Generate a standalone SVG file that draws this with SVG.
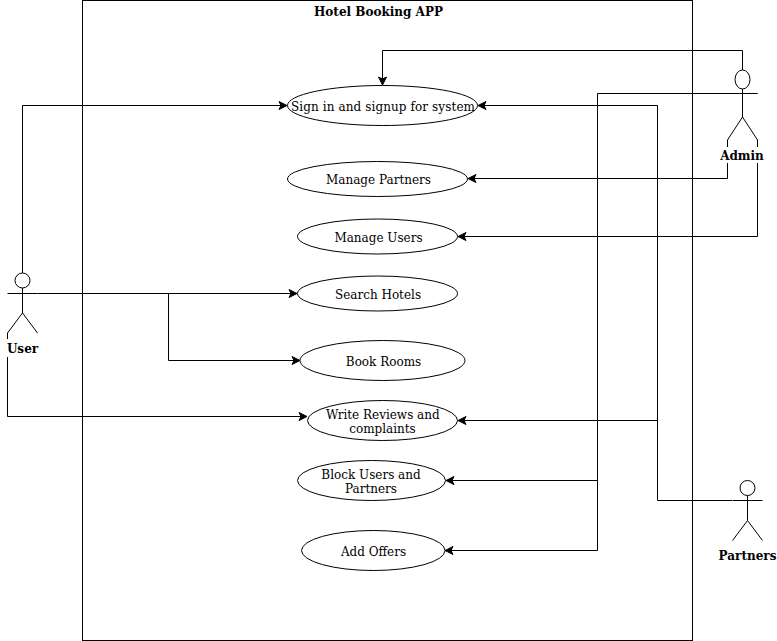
<svg xmlns="http://www.w3.org/2000/svg" width="777" height="641" viewBox="0 0 777 641">
<style>
.l{fill:none;stroke:#000;stroke-width:1}
.c{fill:none;stroke:#000;stroke-width:1;marker-end:url(#a)}
.e{fill:#fff;stroke:#000;stroke-width:1}
text{font-family:"DejaVu Serif",serif;font-size:12px;fill:#000;text-anchor:middle}
.b{font-weight:bold}
.bg{fill:#fff}
</style>
<defs><marker id="a" markerUnits="userSpaceOnUse" markerWidth="10" markerHeight="10" refX="9" refY="4.5" orient="auto"><path d="M1 0.500L9 4.500L1 8.500L3 4.500Z" fill="#000" stroke="#000" stroke-width="1"/></marker></defs>
<rect id="boundary" x="82.500" y="0.500" width="610" height="640" fill="#fff" stroke="#000"/>
<text class="b" x="378.500" y="16">Hotel Booking APP</text>
<g id="connectors">
<path class="c" d="M22.500 273V105.500H287"/>
<path class="c" d="M37.500 293.500H297"/>
<path class="c" d="M168.500 293.500V360.500H300"/>
<path class="c" d="M7.500 333V416.500H307"/>
<path class="c" d="M742.500 70V50.500H382.500V85"/>
<path class="c" d="M727.500 140V178.500H468"/>
<path class="c" d="M757.500 140V236.500H458"/>
<path class="c" d="M732 500.500H657.500V105.500H478"/>
<path class="c" d="M657.500 420.500H458"/>
<path class="c" d="M757.500 93.500H597.500V480.500H446"/>
<path class="c" d="M597.500 480.500V550.500H445"/>
</g>
<g id="n1"><ellipse class="e" cx="382.500" cy="105.500" rx="95" ry="20"/><text x="383" y="111" textLength="184">Sign in and signup for system</text></g>
<g id="n2"><ellipse class="e" cx="377.500" cy="179" rx="90" ry="17.500"/><text x="378.500" y="184">Manage Partners</text></g>
<g id="n3"><ellipse class="e" cx="377.500" cy="236.500" rx="80" ry="17.500"/><text x="378.500" y="242">Manage Users</text></g>
<g id="n4"><ellipse class="e" cx="377.500" cy="293.500" rx="80" ry="17.500"/><text x="378" y="299">Search Hotels</text></g>
<g id="n5"><ellipse class="e" cx="382.500" cy="360.500" rx="82.500" ry="20"/><text x="383.500" y="366">Book Rooms</text></g>
<g id="n6"><ellipse class="e" cx="382.500" cy="420.500" rx="75" ry="20"/><text x="382.800" y="419">Write Reviews and</text><text x="382.500" y="433">complaints</text></g>
<g id="n7"><ellipse class="e" cx="371.500" cy="480.500" rx="74" ry="20"/><text x="371" y="479">Block Users and</text><text x="371" y="493">Partners</text></g>
<g id="n8"><ellipse class="e" cx="373.250" cy="550.500" rx="71.750" ry="20"/><text x="373.500" y="556">Add Offers</text></g>
<g id="user"><ellipse class="e" cx="22.500" cy="280.500" rx="7.500" ry="7.500"/><path class="l" d="M22.500 288V313M7.500 293.500H37.500M7.500 333L22.500 313L37.500 333"/><rect class="bg" x="5" y="339" width="36" height="18"/><text class="b" x="22.500" y="353">User</text></g>
<g id="admin"><ellipse class="e" cx="742.500" cy="79.500" rx="7.500" ry="9.500"/><path class="l" d="M742.500 89V117M727.500 93.500H757.500M727.500 140L742.500 117L757.500 140"/><rect class="bg" x="719" y="147" width="46" height="16"/><text class="b" x="742" y="160">Admin</text></g>
<g id="partners"><ellipse class="e" cx="747.500" cy="488" rx="7.500" ry="7.500"/><path class="l" d="M747.500 495.500V520.500M732.500 500.500H762.500M732.500 540.500L747.500 520.500L762.500 540.500"/><text class="b" x="747.500" y="560">Partners</text></g>
</svg>
